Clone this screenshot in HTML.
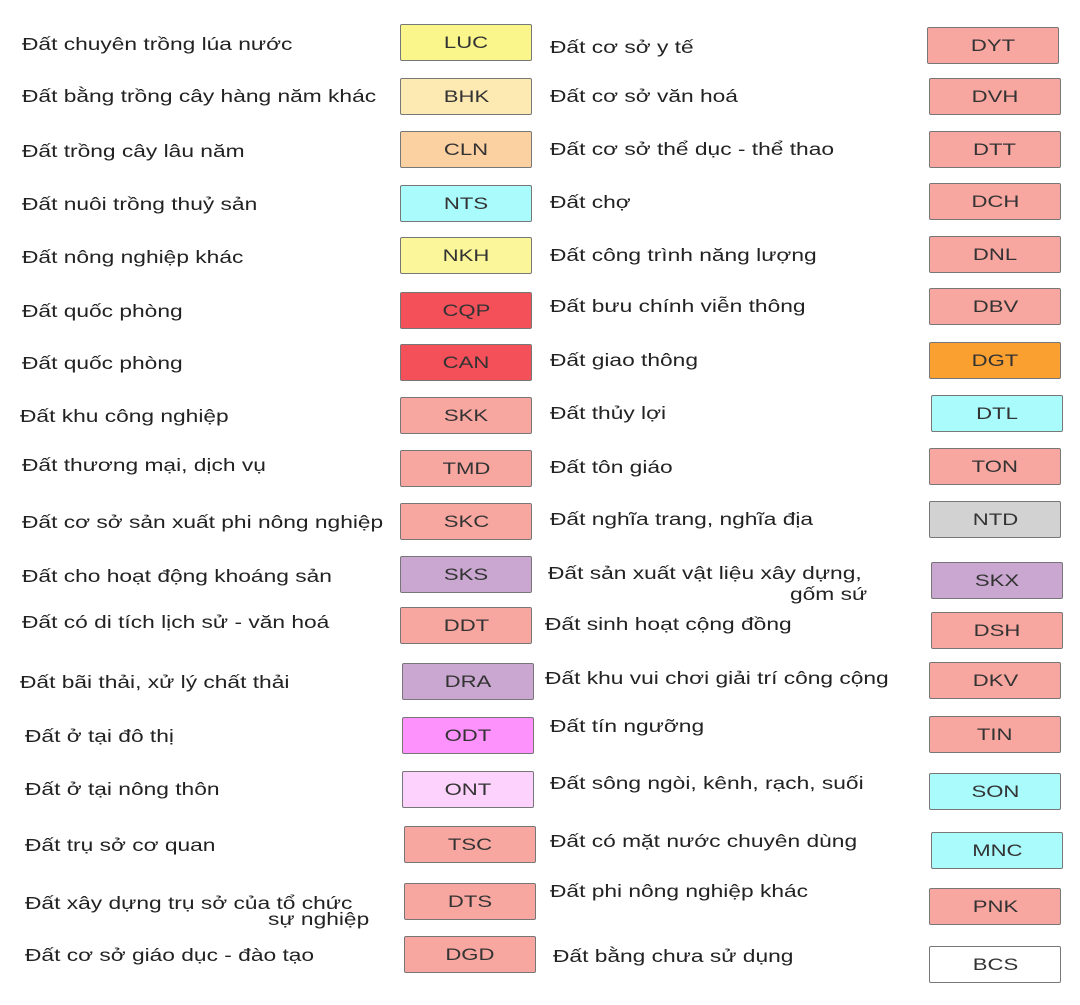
<!DOCTYPE html>
<html><head><meta charset="utf-8"><style>
body{margin:0;width:1080px;height:1005px;background:#fff;position:relative;overflow:hidden;font-family:"Liberation Sans","DejaVu Sans",sans-serif;color:#222}
.b{position:absolute;width:132px;height:37px;border:1.5px solid #777;border-radius:2px;box-sizing:border-box;text-align:center;line-height:36px;font-size:17px;color:#333}
.b span{display:inline-block;transform:scaleX(1.3)}
.t{position:absolute;font-size:17.5px;line-height:20px;white-space:nowrap;transform:translateY(-50%) scaleX(1.3);transform-origin:left center}
</style></head><body>
<div class="t" style="left:22px;top:44px">Đất chuyên trồng lúa nước</div>
<div class="t" style="left:22px;top:96px">Đất bằng trồng cây hàng năm khác</div>
<div class="t" style="left:22px;top:151px">Đất trồng cây lâu năm</div>
<div class="t" style="left:22px;top:204px">Đất nuôi trồng thuỷ sản</div>
<div class="t" style="left:22px;top:257px">Đất nông nghiệp khác</div>
<div class="t" style="left:22px;top:311px">Đất quốc phòng</div>
<div class="t" style="left:22px;top:363px">Đất quốc phòng</div>
<div class="t" style="left:20px;top:416px">Đất khu công nghiệp</div>
<div class="t" style="left:22px;top:465px">Đất thương mại, dịch vụ</div>
<div class="t" style="left:22px;top:522px">Đất cơ sở sản xuất phi nông nghiệp</div>
<div class="t" style="left:22px;top:576px">Đất cho hoạt động khoáng sản</div>
<div class="t" style="left:22px;top:622px">Đất có di tích lịch sử - văn hoá</div>
<div class="t" style="left:20px;top:682px">Đất bãi thải, xử lý chất thải</div>
<div class="t" style="left:25px;top:736px">Đất ở tại đô thị</div>
<div class="t" style="left:25px;top:789px">Đất ở tại nông thôn</div>
<div class="t" style="left:25px;top:845px">Đất trụ sở cơ quan</div>
<div class="t" style="left:25px;top:903px">Đất xây dựng trụ sở của tổ chức</div>
<div class="t" style="left:268px;top:919px">sự nghiệp</div>
<div class="t" style="left:25px;top:955px">Đất cơ sở giáo dục - đào tạo</div>
<div class="b" style="left:400px;top:24px;background:#fbf68c"><span>LUC</span></div>
<div class="b" style="left:400px;top:78px;background:#fde9b2"><span>BHK</span></div>
<div class="b" style="left:400px;top:131px;background:#fcd1a2"><span>CLN</span></div>
<div class="b" style="left:400px;top:185px;background:#a9fbfc"><span>NTS</span></div>
<div class="b" style="left:400px;top:237px;background:#fbf69a"><span>NKH</span></div>
<div class="b" style="left:400px;top:292px;background:#f3505a"><span>CQP</span></div>
<div class="b" style="left:400px;top:344px;background:#f3505a"><span>CAN</span></div>
<div class="b" style="left:400px;top:397px;background:#f8a7a0"><span>SKK</span></div>
<div class="b" style="left:400px;top:450px;background:#f8a7a0"><span>TMD</span></div>
<div class="b" style="left:400px;top:503px;background:#f8a7a0"><span>SKC</span></div>
<div class="b" style="left:400px;top:556px;background:#c9a7d0"><span>SKS</span></div>
<div class="b" style="left:400px;top:607px;background:#f8a7a0"><span>DDT</span></div>
<div class="b" style="left:402px;top:663px;background:#c9a7d0"><span>DRA</span></div>
<div class="b" style="left:402px;top:717px;background:#fd92fc"><span>ODT</span></div>
<div class="b" style="left:402px;top:771px;background:#fdd2fc"><span>ONT</span></div>
<div class="b" style="left:404px;top:826px;background:#f8a7a0"><span>TSC</span></div>
<div class="b" style="left:404px;top:883px;background:#f8a7a0"><span>DTS</span></div>
<div class="b" style="left:404px;top:936px;background:#f8a7a0"><span>DGD</span></div>
<div class="t" style="left:550px;top:47px">Đất cơ sở y tế</div>
<div class="t" style="left:550px;top:96px">Đất cơ sở văn hoá</div>
<div class="t" style="left:550px;top:149px">Đất cơ sở thể dục - thể thao</div>
<div class="t" style="left:550px;top:202px">Đất chợ</div>
<div class="t" style="left:550px;top:255px">Đất công trình năng lượng</div>
<div class="t" style="left:550px;top:306px">Đất bưu chính viễn thông</div>
<div class="t" style="left:550px;top:360px">Đất giao thông</div>
<div class="t" style="left:550px;top:413px">Đất thủy lợi</div>
<div class="t" style="left:550px;top:467px">Đất tôn giáo</div>
<div class="t" style="left:550px;top:519px">Đất nghĩa trang, nghĩa địa</div>
<div class="t" style="left:548px;top:573px">Đất sản xuất vật liệu xây dựng,</div>
<div class="t" style="left:790px;top:594px">gốm sứ</div>
<div class="t" style="left:545px;top:624px">Đất sinh hoạt cộng đồng</div>
<div class="t" style="left:545px;top:678px">Đất khu vui chơi giải trí công cộng</div>
<div class="t" style="left:550px;top:726px">Đất tín ngưỡng</div>
<div class="t" style="left:550px;top:783px">Đất sông ngòi, kênh, rạch, suối</div>
<div class="t" style="left:550px;top:841px">Đất có mặt nước chuyên dùng</div>
<div class="t" style="left:550px;top:891px">Đất phi nông nghiệp khác</div>
<div class="t" style="left:553px;top:956px">Đất bằng chưa sử dụng</div>
<div class="b" style="left:927px;top:27px;background:#f8a7a0"><span>DYT</span></div>
<div class="b" style="left:929px;top:78px;background:#f8a7a0"><span>DVH</span></div>
<div class="b" style="left:929px;top:131px;background:#f8a7a0"><span>DTT</span></div>
<div class="b" style="left:929px;top:183px;background:#f8a7a0"><span>DCH</span></div>
<div class="b" style="left:929px;top:236px;background:#f8a7a0"><span>DNL</span></div>
<div class="b" style="left:929px;top:288px;background:#f8a7a0"><span>DBV</span></div>
<div class="b" style="left:929px;top:342px;background:#f9a030"><span>DGT</span></div>
<div class="b" style="left:931px;top:395px;background:#a9fbfc"><span>DTL</span></div>
<div class="b" style="left:929px;top:448px;background:#f8a7a0"><span>TON</span></div>
<div class="b" style="left:929px;top:501px;background:#d2d2d2"><span>NTD</span></div>
<div class="b" style="left:931px;top:562px;background:#c9a7d0"><span>SKX</span></div>
<div class="b" style="left:931px;top:612px;background:#f8a7a0"><span>DSH</span></div>
<div class="b" style="left:929px;top:662px;background:#f8a7a0"><span>DKV</span></div>
<div class="b" style="left:929px;top:716px;background:#f8a7a0"><span>TIN</span></div>
<div class="b" style="left:929px;top:773px;background:#a9fbfc"><span>SON</span></div>
<div class="b" style="left:931px;top:832px;background:#a9fbfc"><span>MNC</span></div>
<div class="b" style="left:929px;top:888px;background:#f8a7a0"><span>PNK</span></div>
<div class="b" style="left:929px;top:946px;background:#ffffff"><span>BCS</span></div>
</body></html>
